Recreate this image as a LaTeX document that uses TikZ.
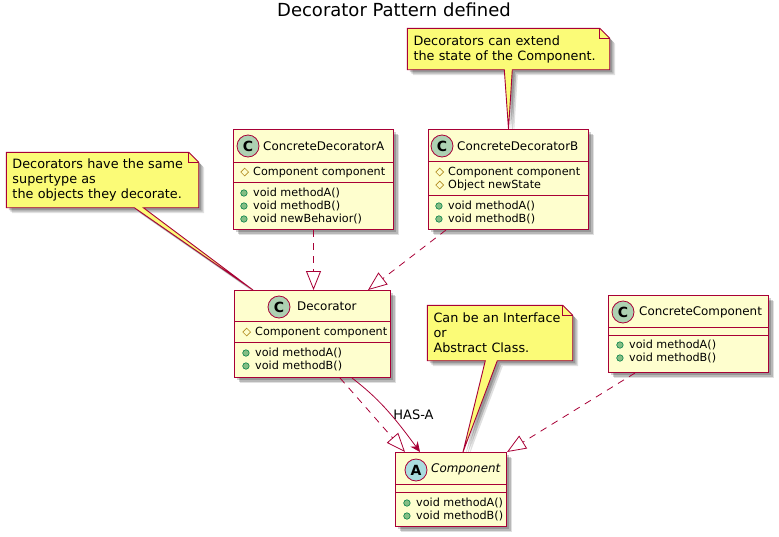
\documentclass[tikz,border=0pt]{standalone}
\usepackage{fontspec}
\setmainfont{DejaVu Sans}
\usepackage{xcolor}
\usetikzlibrary{arrows.meta,calc,positioning,backgrounds,shadows,shapes.geometric}
\definecolor{umlred}{HTML}{A80036}
\definecolor{umlbox}{HTML}{FEFECE}
\definecolor{umlnote}{HTML}{FBFB77}
\definecolor{spotC}{HTML}{ADD1B2}
\definecolor{spotA}{HTML}{A9DCDF}
\definecolor{pubfill}{HTML}{84BE84}
\definecolor{publine}{HTML}{038048}
\definecolor{protline}{HTML}{B38D22}
\tikzset{
  umlshadow/.style={
    drop shadow={shadow xshift=5.5pt,shadow yshift=-5.5pt,fill=black,opacity=.12},
    drop shadow={shadow xshift=4pt,shadow yshift=-4pt,fill=black,opacity=.18},
    drop shadow={shadow xshift=2.5pt,shadow yshift=-2.5pt,fill=black,opacity=.18}},
  classbox/.style={draw=umlred,fill=umlbox,line width=1pt,umlshadow,inner sep=0pt},
  classsep/.style={draw=umlred,line width=1pt},
  spot/.style={circle,draw=umlred,line width=.8pt,minimum size=22pt,inner sep=0pt,font=\fontsize{14}{15}\bfseries\selectfont},
  classname/.style={anchor=west,inner sep=0pt,font=\fontsize{11.9}{14}\selectfont},
  member/.style={anchor=west,inner sep=0pt,text height=8pt,text depth=2pt,font=\fontsize{11.2}{12}\selectfont},
  pubicon/.style={circle,draw=publine,fill=pubfill,line width=.6pt,minimum size=6.5pt,inner sep=0pt},
  proticon/.style={diamond,draw=protline,line width=.6pt,minimum size=8pt,inner sep=0pt},
  pub/.style={member,label={[pubicon,xshift=-5.5pt]left:{}}},
  prot/.style={member,label={[proticon,xshift=-4pt]left:{}}},
  notebox/.style={inner xsep=6pt,inner ysep=0pt,align=left,font=\fontsize{12.8}{15}\selectfont},
  noteshape/.style={draw=umlred,fill=umlnote,line width=.9pt,umlshadow,line join=miter},
  notefold/.style={draw=umlred,line width=.9pt},
  implements/.style={draw=umlred,line width=.8pt,dash pattern=on 7pt off 6pt,-{Triangle[length=19pt,width=15pt,fill=white,sep=0pt]}},
}
\begin{document}
\begin{tikzpicture}[x=1pt,y=-1pt,>=Stealth]
  \useasboundingbox (0,0) rectangle (779,536);
  \node[font=\fontsize{18}{20}\selectfont] (title) at (394,10) {Decorator Pattern defined};

  % top left class
  \node[classbox,minimum width=160pt,minimum height=100pt] (conA) at (313.5,179.5) {};
  \draw[classsep] ($(conA.north west)+(0,33)$) -- ($(conA.north east)+(0,33)$);
  \draw[classsep] ($(conA.north west)+(0,53)$) -- ($(conA.north east)+(0,53)$);
  \node[spot,fill=spotC] (conAspot) at (248,146) {C};
  \node[classname] (conAname) at (263,146) {ConcreteDecoratorA};
  \node[prot] (conAf1) at (253,172) {Component component};
  \node[pub] (conAm1) at (253,193) {void methodA()};
  \node[pub] (conAm2) at (253,206) {void methodB()};
  \node[pub] (conAm3) at (253,219) {void newBehavior()};

  % top right class
  \node[classbox,minimum width=160pt,minimum height=100pt] (conB) at (508.5,179.5) {};
  \draw[classsep] ($(conB.north west)+(0,32)$) -- ($(conB.north east)+(0,32)$);
  \draw[classsep] ($(conB.north west)+(0,66)$) -- ($(conB.north east)+(0,66)$);
  \node[spot,fill=spotC] (conBspot) at (442,146) {C};
  \node[classname] (conBname) at (457,146) {ConcreteDecoratorB};
  \node[prot] (conBf1) at (448,172) {Component component};
  \node[prot] (conBf2) at (448,185) {Object newState};
  \node[pub] (conBm1) at (448,206) {void methodA()};
  \node[pub] (conBm2) at (448,219) {void methodB()};

  % decorator
  \node[classbox,minimum width=156pt,minimum height=87pt] (decorator) at (312.5,334) {};
  \draw[classsep] ($(decorator.north west)+(0,31)$) -- ($(decorator.north east)+(0,31)$);
  \draw[classsep] ($(decorator.north west)+(0,52)$) -- ($(decorator.north east)+(0,52)$);
  \node[spot,fill=spotC] (decspot) at (279,307) {C};
  \node[classname] (decname) at (297,306) {Decorator};
  \node[prot] (decf1) at (255,332) {Component component};
  \node[pub] (decm1) at (255,353) {void methodA()};
  \node[pub] (decm2) at (255,366) {void methodB()};

  % abstract base
  \node[classbox,minimum width=111pt,minimum height=74pt] (component) at (451,489.5) {};
  \draw[classsep] ($(component.north west)+(0,32)$) -- ($(component.north east)+(0,32)$);
  \draw[classsep] ($(component.north west)+(0,40)$) -- ($(component.north east)+(0,40)$);
  \node[spot,fill=spotA] (compspot) at (416,470) {A};
  \node[classname,font=\fontsize{11.9}{14}\itshape\selectfont] (compname) at (431,469) {Component};
  \node[pub] (compm1) at (416,503) {void methodA()};
  \node[pub] (compm2) at (416,516) {void methodB()};

  % concrete component
  \node[classbox,minimum width=160pt,minimum height=77pt] (conComp) at (688.5,334) {};
  \draw[classsep] ($(conComp.north west)+(0,32)$) -- ($(conComp.north east)+(0,32)$);
  \draw[classsep] ($(conComp.north west)+(0,40)$) -- ($(conComp.north east)+(0,40)$);
  \node[spot,fill=spotC] (ccspot) at (623,312) {C};
  \node[classname] (ccname) at (639,312) {ConcreteComponent};
  \node[pub] (ccm1) at (629,345) {void methodA()};
  \node[pub] (ccm2) at (629,358) {void methodB()};

  % relations
  \draw[implements] (conA.south) -- (conA.south |- decorator.north);
  \coordinate (bstart) at ($(conB.south west)+(18,0)$);
  \coordinate (bend) at ($(decorator.north east)+(-23,0)$);
  \draw[implements] (bstart) -- (bend);
  \coordinate (dstart) at ($(decorator.south)+(27.5,0)$);
  \coordinate (dend) at ($(component.north west)+(10,0)$);
  \draw[implements] (dstart) -- (dend);
  \coordinate (ccstart) at ($(conComp.south west)+(27,0)$);
  \draw[implements] (ccstart) -- (component.north east);
  \coordinate (hstart) at ($(decorator.south)+(39.5,0)$);
  \coordinate (hend) at ($(component.north west)+(25,0)$);
  \draw[-{Stealth[length=10pt,width=9pt]},draw=umlred,line width=.8pt] (hstart) .. controls (378,398) and (392,414) .. (hend);
  \node[font=\fontsize{13}{14}\selectfont,inner sep=0pt] (hasa) at (413.5,415) {HAS-A};

  % notes
  \node[notebox,text width=180pt,minimum height=55pt] (noteA) at (102.5,180) {Decorators have the same\\supertype as\\the objects they decorate.};
  \node[notebox,text width=190pt,minimum height=41pt] (noteB) at (508.5,49) {Decorators can extend\\the state of the Component.};
  \node[notebox,text width=133pt,minimum height=55pt] (noteC) at (500,333) {Can be an Interface\\or\\Abstract Class.};
  \coordinate (decNote) at ($(decorator.north west)+(19,0)$);
  \coordinate (compNote) at ($(component.north west)+(68,0)$);
  \begin{scope}[on background layer]
    \draw[noteshape] (noteA.north west) -- ($(noteA.north east)+(-10,0)$) -- ($(noteA.north east)+(0,10)$) -- (noteA.south east)
      -- ($(noteA.south west)+(137,0)$) -- (decNote) -- ($(noteA.south west)+(128,0)$) -- (noteA.south west) -- cycle;
    \draw[notefold] ($(noteA.north east)+(-10,0)$) -- ($(noteA.north east)+(-10,10)$) -- ($(noteA.north east)+(0,10)$);
    \draw[noteshape] (noteB.north west) -- ($(noteB.north east)+(-10,0)$) -- ($(noteB.north east)+(0,10)$) -- (noteB.south east)
      -- ($(noteB.south west)+(105,0)$) -- (conB.north) -- ($(noteB.south west)+(97,0)$) -- (noteB.south west) -- cycle;
    \draw[notefold] ($(noteB.north east)+(-10,0)$) -- ($(noteB.north east)+(-10,10)$) -- ($(noteB.north east)+(0,10)$);
    \draw[noteshape] (noteC.north west) -- ($(noteC.north east)+(-10,0)$) -- ($(noteC.north east)+(0,10)$) -- (noteC.south east)
      -- ($(noteC.south west)+(70,0)$) -- (compNote) -- ($(noteC.south west)+(58,0)$) -- (noteC.south west) -- cycle;
    \draw[notefold] ($(noteC.north east)+(-10,0)$) -- ($(noteC.north east)+(-10,10)$) -- ($(noteC.north east)+(0,10)$);
  \end{scope}
\end{tikzpicture}
\end{document}
